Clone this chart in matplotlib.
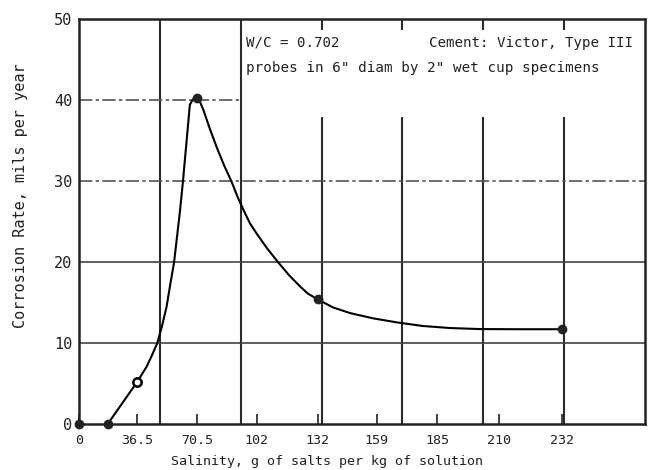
import numpy as np
import matplotlib.pyplot as plt

# lettering-template look
plt.rcParams['font.family'] = ['DejaVu Sans Mono', 'DejaVu Sans']

# salinity axis labels, g of salts per kg of solution
sal_ticks = [0, 36.5, 70.5, 102, 132, 159, 185, 210, 232]
tick_labels = ['0', '36.5', '70.5', '102', '132', '159', '185', '210', '232']
# where each label sits along the axis, in grid divisions (axis not linear)
tick_pos = [0, 0.72, 1.46, 2.2, 2.95, 3.68, 4.43, 5.2, 5.97]

# measured points, corrosion rate in mils per year
pt_sal = [0, 18, 70.5, 132, 232]
pt_rate = [0, 0, 40.2, 15.4, 11.7]
open_sal = [36.5]
open_rate = [5.2]

# faired curve
curve_sal = [18, 36.5, 41.9, 44.9, 47.9, 50.6, 53.2, 55.1, 57.4, 58.9,
             60.8, 62.5, 64.5, 66.4, 68.2, 70.3, 72.0, 73.8, 77.3, 80.8,
             84.6, 88.7, 91.9, 95.2, 98.3, 101.9, 107.0, 112.4, 117.8, 123.3,
             127.2, 132, 139.0, 146.8, 157.3, 167.6, 178.8, 190.1, 202.1, 217.2,
             232]
curve_rate = [0, 5.2, 7.1, 8.5, 10, 12.1, 14.5, 17.0, 19.9, 22.7,
              26.3, 30, 34.8, 39.4, 40.1, 40.2, 39.8, 38.8, 36.4, 34.2,
              32.0, 29.9, 28.0, 26.3, 24.8, 23.5, 21.7, 20.0, 18.4, 17.0,
              16.1, 15.4, 14.4, 13.7, 13.05, 12.55, 12.1, 11.85, 11.72, 11.7,
              11.7]


def to_x(sal):
    return np.interp(sal, sal_ticks, tick_pos)


fig = plt.figure(figsize=(6.54, 4.70), dpi=100)
ax = fig.add_axes([79 / 654, 1 - 424 / 470, 566 / 654, 405 / 470])
ax.set_xlim(0, 7)
ax.set_ylim(0, 50)

# grid, cut away behind the note box
gcol = '#2a2a2a'
ax.vlines([1, 2], 0, 50, color=gcol, lw=1.5)
ax.vlines([3, 4, 5, 6], 0, 37.9, color=gcol, lw=1.5)
ax.vlines([3, 4, 5, 6], 48.6, 50, color=gcol, lw=1.5)
ax.hlines([10, 20], 0, 7, color='#444444', lw=1.2)
ax.hlines([30], 0, 7, color='#555555', lw=1.2, linestyles=(0, (8, 2, 2, 2)))
ax.hlines([40], 0, 2, color='#555555', lw=1.2, linestyles=(0, (8, 2, 2, 2)))

# curve and points
ax.plot(to_x(curve_sal), curve_rate, color='black', lw=1.5,
        solid_joinstyle='round')
ax.plot(to_x(pt_sal), pt_rate, 'o', color='#222222', ms=6, clip_on=False)
ax.plot(to_x(open_sal), open_rate, 'o', mfc='white', mec='black', mew=1.8, ms=6)

for s in ax.spines.values():
    s.set_linewidth(1.8)
    s.set_color('#222222')

ax.set_xticks(tick_pos, tick_labels)
ax.tick_params(axis='x', direction='in', length=7, width=1.2, pad=7,
               labelsize=9.6, colors='#222222')
ax.set_yticks([0, 10, 20, 30, 40, 50])
ax.tick_params(axis='y', length=0, pad=5, labelsize=11, colors='#222222')

# note box text
ax.text(0.295, 0.941, 'W/C = 0.702', transform=ax.transAxes,
        ha='left', va='center', fontsize=10.2, color='#222222')
ax.text(0.979, 0.941, 'Cement: Victor, Type III', transform=ax.transAxes,
        ha='right', va='center', fontsize=10.2, color='#222222')
ax.text(0.295, 0.879, 'probes in 6" diam by 2" wet cup specimens',
        transform=ax.transAxes, ha='left', va='center', fontsize=10.3,
        color='#222222')

fig.text(327 / 654, 1 - 462 / 470, 'Salinity, g of salts per kg of solution',
         ha='center', va='center', fontsize=9.6, color='#222222')
fig.text(21 / 654, 1 - 196 / 470, 'Corrosion Rate, mils per year',
         rotation=90, ha='center', va='center', fontsize=11, color='#222222')

fig.savefig('out.png', dpi=100)
